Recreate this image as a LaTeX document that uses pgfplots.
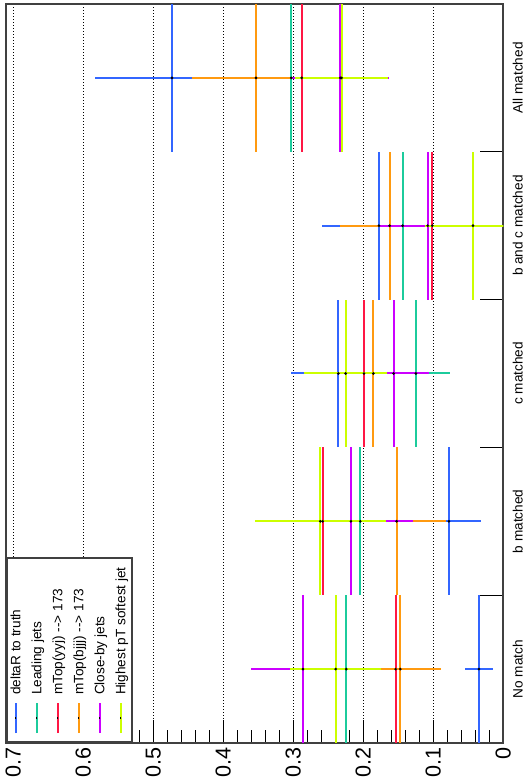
\documentclass[border=0pt]{standalone}
\usepackage{fontspec}
\setmainfont{Liberation Sans}
\usepackage{pgfplots}
\usepackage{pgfplotstable}
\pgfplotsset{compat=1.18}
\definecolor{cblue}{HTML}{3366FF}
\definecolor{cteal}{HTML}{1CCB9C}
\definecolor{cred}{HTML}{FF1744}
\definecolor{corange}{HTML}{FF9A10}
\definecolor{cmag}{HTML}{CC00FF}
\definecolor{clime}{HTML}{CCFF00}
\definecolor{frame}{HTML}{404040}
% c = bin centre (0 = No match ... 4 = All matched), v = fraction, e = error
\pgfplotstableread{
c v e
0.5 0.0348 0.0203
1.5 0.0776 0.0460
2.5 0.2357 0.0676
3.5 0.1776 0.0810
4.5 0.4733 0.1100
}\tblue
\pgfplotstableread{
c v e
0.5 0.2243 0.0660
1.5 0.2043 0.0820
2.5 0.1248 0.0490
3.5 0.1438 0.0700
4.5 0.3029 0.0830
}\tteal
\pgfplotstableread{
c v e
0.5 0.1538 0.0550
1.5 0.2580 0.0930
2.5 0.1990 0.0590
3.5 0.1014 0.0600
4.5 0.2880 0.0800
}\tred
\pgfplotstableread{
c v e
0.5 0.1471 0.0580
1.5 0.1524 0.0705
2.5 0.1857 0.0570
3.5 0.1624 0.0715
4.5 0.3533 0.0910
}\torange
\pgfplotstableread{
c v e
0.5 0.2862 0.0740
1.5 0.2176 0.0880
2.5 0.1567 0.0500
3.5 0.1080 0.0680
4.5 0.2329 0.0690
}\tmag
\pgfplotstableread{
c v e
0.5 0.2395 0.0650
1.5 0.2614 0.0940
2.5 0.2252 0.0590
3.5 0.0433 0.0680
4.5 0.2310 0.0670
}\tlime
\pgfplotsset{
  hist/.style={color=#1, only marks, mark=*, mark size=0.45pt,
    mark options={draw=black, fill=black},
    error bars/.cd, x dir=both, x explicit, y dir=both, y fixed=0.5,
    error mark=none, error bar style={line width=1pt, solid, #1}},
}
\newcommand{\legsample}[1]{\makebox[19pt][l]{\textcolor{#1}{\rule[1.9pt]{15pt}{1pt}}\hspace{-7.8pt}\rule[2.1pt]{0.6pt}{0.6pt}}}
\begin{document}
\begin{tikzpicture}
\useasboundingbox (-3pt,-18.5pt) rectangle (260pt,371.5pt);
\begin{axis}[
  scale only axis,
  width=248.65pt, height=369.5pt,
  x dir=reverse,
  xmin=0, xmax=0.7104, ymin=0, ymax=5,
  axis line style={frame, line width=1pt},
  tick style={black, line width=0.5pt},
  tick align=inside,
  xtick={0,0.1,0.2,0.3,0.4,0.5,0.6,0.7},
  minor x tick num=4,
  major tick length=11.5pt, minor tick length=6.5pt,
  xtick pos=left,
  xmajorgrids,
  major grid style={black, line width=0.5pt, dash pattern=on 0.5pt off 1pt},
  /pgf/number format/assume math mode=true,
  xticklabel style={rotate=90, anchor=east, inner sep=0pt, font=\fontsize{10.8}{12}\selectfont},
  xticklabel shift=2pt,
  ytick={1,2,3,4}, yticklabels={},
  ytick pos=right,
  extra y ticks={0.5,1.5,2.5,3.5,4.5},
  extra y tick labels={No match, b matched, c matched, b and c matched, All matched},
  extra y tick style={major tick length=0pt, yticklabel style={rotate=90, anchor=north, inner sep=0pt, font=\fontsize{6.8}{8}\selectfont}},
  yticklabel shift=4.5pt,
]
\addplot[hist=cblue] table[x=v, y=c, x error=e] {\tblue};
\addplot[hist=cteal] table[x=v, y=c, x error=e] {\tteal};
\addplot[hist=cred] table[x=v, y=c, x error=e] {\tred};
\addplot[hist=corange] table[x=v, y=c, x error=e] {\torange};
\addplot[hist=cmag] table[x=v, y=c, x error=e] {\tmag};
\addplot[hist=clime] table[x=v, y=c, x error=e] {\tlime};
\node[rotate=90, anchor=north west, draw=frame, line width=1pt, fill=white,
      inner xsep=4.5pt, inner ysep=1.8pt, align=left,
      font=\fontsize{6.8}{10.5}\selectfont]
  at (axis description cs:0,0) {%
  \legsample{cblue}deltaR to truth\\
  \legsample{cteal}Leading jets\\
  \legsample{cred}mTop(yyj) -{}-> 173\\
  \legsample{corange}mTop(bjjj) -{}-> 173\\
  \legsample{cmag}Close-by jets\\
  \legsample{clime}Highest pT softest jet};
\end{axis}
\end{tikzpicture}
\end{document}
